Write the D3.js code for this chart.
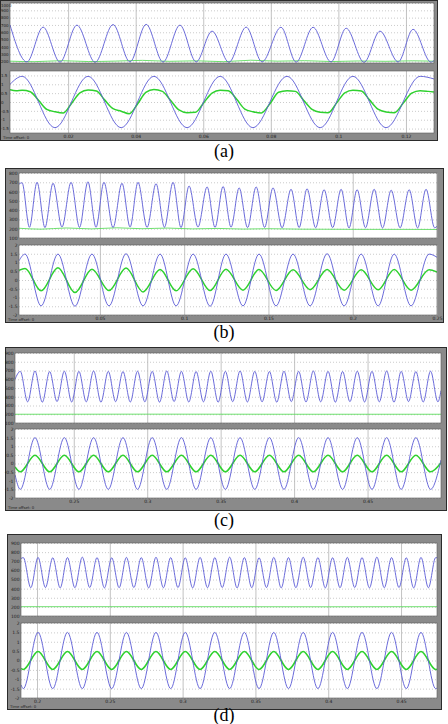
<!DOCTYPE html>
<html>
<head>
<meta charset="utf-8">
<script src="https://cdn.jsdelivr.net/npm/d3@7"></script>
<style>
  body { margin: 0; background: #fff; }
  svg { display: block; }
</style>
</head>
<body>
<svg id="fig" width="448" height="724"></svg>
<script>
// ---- panel (a) ----
const aXDomain = [0.0028, 0.1283];
const aXTicks = [0.02, 0.04, 0.06, 0.08, 0.1, 0.12];
const aTopDomain = [180, 1000];
const aTopTicks = [200, 300, 400, 500, 600, 700, 800, 900, 1000];
const aBotDomain = [-1.75, 1.75];
const aBotTicks = [-1.5, -1, -0.5, 0, 0.5, 1, 1.5];
const aTopT = [0.0028, 0.0078, 0.0126, 0.0176, 0.0226, 0.0280, 0.0333, 0.0383, 0.0431, 0.0481, 0.0531, 0.0579, 0.0626, 0.0676,
  0.0727, 0.0774, 0.0830, 0.0875, 0.0925, 0.0978, 0.1023, 0.1076, 0.1123, 0.1177, 0.1221, 0.1274, 0.1283];
const aTopBlue = [700, 195, 670, 192, 697, 190, 705, 195, 708, 193, 697, 195, 615, 190,
  670, 195, 668, 192, 668, 195, 655, 190, 615, 195, 640, 192, 215];
const aTopGreenT = [0.0028, 0.010, 0.018, 0.026, 0.034, 0.042, 0.050, 0.058, 0.066, 0.074, 0.082, 0.090, 0.098, 0.106, 0.114, 0.122, 0.1283];
const aTopGreen = [205, 198, 212, 200, 206, 216, 203, 210, 198, 218, 205, 212, 200, 208, 203, 210, 205];
const aBotT = [0.0028, 0.0064, 0.0161, 0.0259, 0.0357, 0.0454, 0.0552, 0.0650, 0.0747, 0.0848, 0.0946, 0.1043, 0.1141, 0.1242, 0.1283];
const aBotBlue = [1.0, 1.45, -1.45, 1.45, -1.45, 1.45, -1.45, 1.45, -1.45, 1.45, -1.45, 1.45, -1.45, 1.45, 1.3];
const aBotGreenT = [0.0028, 0.0046,
  0.0064, 0.0088, 0.0113, 0.0137, 0.0161, 0.0186, 0.0210, 0.0235,
  0.0259, 0.0284, 0.0308, 0.0333, 0.0357, 0.0381, 0.0406, 0.0430,
  0.0454, 0.0479, 0.0503, 0.0528, 0.0552, 0.0577, 0.0601, 0.0626,
  0.0650, 0.0674, 0.0699, 0.0723, 0.0747, 0.0772, 0.0798, 0.0823,
  0.0848, 0.0873, 0.0897, 0.0922, 0.0946, 0.0970, 0.0995, 0.1019,
  0.1043, 0.1068, 0.1092, 0.1117, 0.1141, 0.1166, 0.1192, 0.1217,
  0.1242, 0.1266, 0.1283];
const aBotGreen = [0.7, 0.64,
  0.66, 0.58, 0.08, -0.42, -0.55, -0.62, -0.08, 0.52,
  0.68, 0.62, 0.12, -0.38, -0.52, -0.66, -0.1, 0.55,
  0.7, 0.6, 0.1, -0.45, -0.6, -0.58, -0.05, 0.5,
  0.66, 0.63, 0.15, -0.4, -0.55, -0.62, -0.08, 0.55,
  0.64, 0.6, 0.1, -0.42, -0.58, -0.6, -0.05, 0.52,
  0.66, 0.62, 0.12, -0.4, -0.56, -0.6, -0.06, 0.5,
  0.64, 0.6, 0.56];

// ---- panel (b) ----
const bXDomain = [0.002, 0.25];
const bXTicks = [0.05, 0.1, 0.15, 0.2, 0.25];
const bTopDomain = [100, 800];
const bTopTicks = [100, 200, 300, 400, 500, 600, 700, 800];
const bBotDomain = [-2, 2];
const bBotTicks = [-2, -1.5, -1, -0.5, 0, 0.5, 1, 1.5, 2];
const bTopT = [0.002,
  0.0038, 0.0082, 0.0127, 0.0174, 0.0222, 0.0275, 0.0329, 0.0379, 0.0429, 0.0477,
  0.0524, 0.0578, 0.0631, 0.0679, 0.0726, 0.0780, 0.0833, 0.0883, 0.0934, 0.0981,
  0.1029, 0.1082, 0.1136, 0.1183, 0.1231, 0.1278, 0.1326, 0.1376, 0.1427, 0.1477,
  0.1527, 0.1581, 0.1634, 0.1682, 0.1729, 0.1780, 0.1830, 0.1881, 0.1931, 0.1978,
  0.2026, 0.2076, 0.2127, 0.2177, 0.2228, 0.2281, 0.2335, 0.2385, 0.2435, 0.2486,
  0.25];
const bTopBlue = [680,
  695, 215, 700, 212, 690, 218, 700, 214, 705, 216,
  700, 212, 690, 218, 700, 214, 685, 216, 700, 212,
  660, 218, 650, 214, 655, 216, 640, 212, 650, 214,
  640, 210, 625, 212, 630, 210, 620, 212, 625, 208,
  620, 210, 625, 208, 615, 210, 620, 208, 625, 210,
  225];
const bTopGreenT = [0.002, 0.015, 0.03, 0.045, 0.06, 0.075, 0.09, 0.105, 0.12, 0.135, 0.15, 0.17, 0.19, 0.21, 0.23, 0.25];
const bTopGreen = [205, 195, 208, 198, 210, 200, 207, 198, 203, 196, 200, 195, 194, 193, 193, 192];
const bBotT = [0.002, 0.0056, 0.0151, 0.0251, 0.0352, 0.0453, 0.0554, 0.0655, 0.0756, 0.0857, 0.0952, 0.1053, 0.1154, 0.1248,
  0.1349, 0.1444, 0.1545, 0.1646, 0.1747, 0.1848, 0.1949, 0.2050, 0.2151, 0.2246, 0.2346, 0.2453, 0.25];
const bBotBlue = [1.1, 1.48, -1.48, 1.48, -1.5, 1.48, -1.48, 1.5, -1.48, 1.48, -1.48, 1.48, -1.5, 1.48,
  -1.48, 1.48, -1.48, 1.48, -1.48, 1.5, -1.48, 1.48, -1.48, 1.48, -1.48, 1.48, 1.3];
const bBotGreen = [0.55, 0.66, -0.62, 0.7, -0.72, 0.62, -0.6, 0.68, -0.68, 0.6, -0.62, 0.65, -0.6, 0.62,
  -0.58, 0.6, -0.6, 0.58, -0.55, 0.6, -0.58, 0.58, -0.56, 0.6, -0.58, 0.58, 0.45];

// ---- panel (c) ----
const cXDomain = [0.21, 0.5];
const cXTicks = [0.25, 0.3, 0.35, 0.4, 0.45];
const cTopDomain = [100, 900];
const cTopTicks = [100, 200, 300, 400, 500, 600, 700, 800, 900];
const cBotDomain = [-2, 2];
const cBotTicks = [-2, -1.5, -1, -0.5, 0, 0.5, 1, 1.5, 2];
const cTopT = [0.21,
  0.2136, 0.2186, 0.2236, 0.2286, 0.2336, 0.2386, 0.2436, 0.2486, 0.2535, 0.2585,
  0.2635, 0.2685, 0.2735, 0.2785, 0.2835, 0.2885, 0.2934, 0.2984, 0.3034, 0.3084,
  0.3133, 0.3183, 0.3233, 0.3283, 0.3333, 0.3383, 0.3433, 0.3483, 0.3532, 0.3582,
  0.3632, 0.3682, 0.3732, 0.3782, 0.3832, 0.3882, 0.3931, 0.3981, 0.4031, 0.4081,
  0.4131, 0.4181, 0.4231, 0.4281, 0.4330, 0.4380, 0.4430, 0.4480, 0.4530, 0.4580,
  0.4630, 0.4680, 0.4729, 0.4779, 0.4829, 0.4879, 0.4929, 0.4979,
  0.5];
const cTopBlue = [600,
  690, 342, 695, 338, 688, 345, 692, 340, 690, 342,
  695, 338, 690, 344, 688, 340, 692, 342, 690, 338,
  695, 345, 690, 340, 688, 342, 692, 338, 690, 344,
  695, 340, 690, 342, 688, 338, 692, 345, 690, 340,
  695, 342, 690, 338, 688, 344, 692, 340, 690, 342,
  695, 338, 690, 345, 688, 340, 692, 342,
  470];
const cTopGreenT = [0.21, 0.3, 0.4, 0.5];
const cTopGreen = [200, 201, 200, 200];
const cBotT = [0.21,
  0.2136, 0.2236, 0.2336, 0.2436, 0.2535, 0.2635, 0.2735, 0.2835, 0.2934, 0.3034,
  0.3133, 0.3233, 0.3333, 0.3433, 0.3532, 0.3632, 0.3732, 0.3832, 0.3931, 0.4031,
  0.4131, 0.4231, 0.4330, 0.4430, 0.4530, 0.4630, 0.4729, 0.4829, 0.4929,
  0.5];
const cBotBlue = [-0.65,
  -1.5, 1.5, -1.5, 1.5, -1.5, 1.5, -1.5, 1.5, -1.5, 1.5,
  -1.5, 1.5, -1.5, 1.5, -1.5, 1.5, -1.5, 1.5, -1.5, 1.5,
  -1.5, 1.5, -1.5, 1.5, -1.5, 1.5, -1.5, 1.5, -1.5,
  0.2];
const cBotGreen = [-0.2,
  -0.48, 0.48, -0.48, 0.48, -0.48, 0.48, -0.48, 0.48, -0.48, 0.48,
  -0.48, 0.48, -0.48, 0.48, -0.48, 0.48, -0.48, 0.48, -0.48, 0.48,
  -0.48, 0.48, -0.48, 0.48, -0.48, 0.48, -0.48, 0.48, -0.48,
  0.05];

// ---- panel (d) ----
const dXDomain = [0.189, 0.4747];
const dXTicks = [0.2, 0.25, 0.3, 0.35, 0.4, 0.45];
const dTopDomain = [100, 900];
const dTopTicks = [100, 200, 300, 400, 500, 600, 700, 800, 900];
const dBotDomain = [-2, 2];
const dBotTicks = [-2, -1.5, -1, -0.5, 0, 0.5, 1, 1.5, 2];
const dTopT = [0.189,
  0.1906, 0.1957, 0.2007, 0.2058, 0.2108, 0.2159, 0.2209, 0.2260, 0.2311, 0.2362,
  0.2412, 0.2463, 0.2513, 0.2564, 0.2614, 0.2665, 0.2716, 0.2767, 0.2817, 0.2868,
  0.2918, 0.2968, 0.3018, 0.3069, 0.3120, 0.3171, 0.3221, 0.3272, 0.3323, 0.3374,
  0.3424, 0.3475, 0.3525, 0.3576, 0.3626, 0.3677, 0.3727, 0.3778, 0.3828, 0.3879,
  0.3929, 0.3980, 0.4030, 0.4081, 0.4131, 0.4182, 0.4232, 0.4283, 0.4334, 0.4385,
  0.4435, 0.4486, 0.4536, 0.4587, 0.4637, 0.4688, 0.4738,
  0.4747];
const dTopBlue = [730,
  740, 410, 742, 412, 738, 408, 740, 410, 745, 412,
  740, 408, 738, 410, 742, 412, 740, 408, 744, 410,
  740, 412, 738, 408, 742, 410, 740, 412, 745, 408,
  740, 410, 738, 412, 742, 408, 740, 410, 744, 412,
  740, 408, 738, 410, 742, 412, 740, 408, 745, 410,
  740, 412, 738, 408, 742, 410, 740,
  738];
const dTopGreenT = [0.189, 0.3, 0.4, 0.4747];
const dTopGreen = [202, 202, 201, 202];
const dBotT = [0.189,
  0.1906, 0.2007, 0.2108, 0.2209, 0.2311, 0.2412, 0.2513, 0.2614, 0.2716, 0.2817,
  0.2918, 0.3018, 0.3120, 0.3221, 0.3323, 0.3424, 0.3525, 0.3626, 0.3727, 0.3828,
  0.3929, 0.4030, 0.4131, 0.4232, 0.4334, 0.4435, 0.4536, 0.4637, 0.4738,
  0.4747];
const dBotBlue = [-1.3,
  -1.5, 1.5, -1.5, 1.5, -1.5, 1.5, -1.5, 1.5, -1.5, 1.5,
  -1.5, 1.5, -1.5, 1.5, -1.5, 1.5, -1.5, 1.5, -1.5, 1.5,
  -1.5, 1.5, -1.5, 1.5, -1.5, 1.5, -1.5, 1.5, -1.5,
  -1.47];
const dBotGreen = [-0.42,
  -0.48, 0.48, -0.48, 0.48, -0.48, 0.48, -0.48, 0.48, -0.48, 0.48,
  -0.48, 0.48, -0.48, 0.48, -0.48, 0.48, -0.48, 0.48, -0.48, 0.48,
  -0.48, 0.48, -0.48, 0.48, -0.48, 0.48, -0.48, 0.48, -0.48,
  -0.47];

// layout of the four scope screenshots (pixels)
const panels = [
  {label: '(a)', frame: [0, 0, 438, 141], px: [10, 434], top: [3, 63], bot: [71, 133], capY: 157, leftLabels: true,
   xDom: aXDomain, xTicks: aXTicks,
   topDom: aTopDomain, topTicks: aTopTicks, botDom: aBotDomain, botTicks: aBotTicks,
   topBlue: [aTopT, aTopBlue], topGreen: [aTopGreenT, aTopGreen],
   botBlue: [aBotT, aBotBlue], botGreen: [aBotGreenT, aBotGreen], greenW: 1.5},
  {label: '(b)', frame: [5, 168, 444, 323], px: [19, 437], top: [173, 238], bot: [245, 315], capY: 338,
   xDom: bXDomain, xTicks: bXTicks,
   topDom: bTopDomain, topTicks: bTopTicks, botDom: bBotDomain, botTicks: bBotTicks,
   topBlue: [bTopT, bTopBlue], topGreen: [bTopGreenT, bTopGreen],
   botBlue: [bBotT, bBotBlue], botGreen: [bBotT, bBotGreen], greenW: 1.5},
  {label: '(c)', frame: [5, 347, 447, 511], px: [15, 441], top: [353, 423], bot: [429, 498], capY: 526,
   xDom: cXDomain, xTicks: cXTicks,
   topDom: cTopDomain, topTicks: cTopTicks, botDom: cBotDomain, botTicks: cBotTicks,
   topBlue: [cTopT, cTopBlue], topGreen: [cTopGreenT, cTopGreen],
   botBlue: [cBotT, cBotBlue], botGreen: [cBotT, cBotGreen], greenW: 1.6},
  {label: '(d)', frame: [7, 534, 442, 710], px: [21, 437], top: [543, 616], bot: [623, 698], capY: 721,
   xDom: dXDomain, xTicks: dXTicks,
   topDom: dTopDomain, topTicks: dTopTicks, botDom: dBotDomain, botTicks: dBotTicks,
   topBlue: [dTopT, dTopBlue], topGreen: [dTopGreenT, dTopGreen],
   botBlue: [dBotT, dBotBlue], botGreen: [dBotT, dBotGreen], greenW: 1.6}
];

const svg = d3.select('#fig');
const BLUE = '#5a5ad6';
const GREEN = '#2fd12f';
const fmt = d => String(d);

panels.forEach((p, i) => {
  const g = svg.append('g');
  const [fx0, fy0, fx1, fy1] = p.frame;

  // gray scope frame
  g.append('rect')
    .attr('x', fx0 + 0.5).attr('y', fy0 + 0.5)
    .attr('width', fx1 - fx0 - 1).attr('height', fy1 - fy0 - 1)
    .attr('fill', '#8a8a8a').attr('stroke', '#2b2b2b').attr('stroke-width', 1);

  const x = d3.scaleLinear().domain(p.xDom).range(p.px);
  const w = p.px[1] - p.px[0];

  const subs = [
    {key: 'top', rng: p.top, dom: p.topDom, ticks: p.topTicks, blue: p.topBlue, green: p.topGreen, gw: 0.9, gc: '#5fdc5f'},
    {key: 'bot', rng: p.bot, dom: p.botDom, ticks: p.botTicks, blue: p.botBlue, green: p.botGreen, gw: p.greenW, gc: GREEN}
  ];

  subs.forEach(s => {
    const [y0, y1] = s.rng;
    const h = y1 - y0;
    const y = d3.scaleLinear().domain(s.dom).range([y1, y0]);
    const clipId = `clip-${i}-${s.key}`;

    g.append('clipPath').attr('id', clipId)
      .append('rect').attr('x', p.px[0]).attr('y', y0).attr('width', w).attr('height', h);

    g.append('rect')
      .attr('x', p.px[0]).attr('y', y0).attr('width', w).attr('height', h)
      .attr('fill', '#fff');

    // horizontal dotted grid
    const hg = g.append('g')
      .attr('transform', `translate(${p.px[0]},0)`)
      .call(d3.axisLeft(y).tickValues(s.ticks).tickSize(-w).tickFormat(''));
    hg.select('.domain').remove();
    hg.selectAll('line').attr('stroke', '#a8a8a8').attr('stroke-width', 0.6).attr('stroke-dasharray', '1,2');

    // vertical grid at x ticks
    const vg = g.append('g')
      .attr('transform', `translate(0,${y1})`)
      .call(d3.axisBottom(x).tickValues(p.xTicks).tickSize(-h).tickFormat(''));
    vg.select('.domain').remove();
    vg.selectAll('line').attr('stroke', '#b4b4b4').attr('stroke-width', 0.8);

    // y tick labels in the gray margin
    const ya = g.append('g')
      .attr('transform', `translate(${p.px[0]},0)`)
      .call(d3.axisLeft(y).tickValues(s.ticks).tickSize(0).tickPadding(1.5).tickFormat(fmt));
    ya.select('.domain').remove();
    ya.selectAll('text').attr('font-size', 4.5).attr('font-family', 'DejaVu Sans, sans-serif').attr('fill', '#1e1e1e');
    if (p.leftLabels) {
      // narrow margin: start the labels at the frame edge
      ya.selectAll('text').attr('text-anchor', 'start').attr('x', fx0 + 1 - p.px[0]).attr('font-size', 4);
    }
    // keep labels that sit on the frame edge inside the picture
    ya.selectAll('.tick').filter(d => y(d) < fy0 + 4).select('text').attr('dy', '0.9em');

    const line = d3.line()
      .x(d => x(d[0]))
      .y(d => y(d[1]))
      .curve(d3.curveMonotoneX);

    const traces = g.append('g').attr('clip-path', `url(#${clipId})`);
    traces.append('path')
      .attr('d', line(d3.zip(s.green[0], s.green[1])))
      .attr('fill', 'none').attr('stroke', s.gc).attr('stroke-width', s.gw);
    traces.append('path')
      .attr('d', line(d3.zip(s.blue[0], s.blue[1])))
      .attr('fill', 'none').attr('stroke', BLUE).attr('stroke-width', 0.9);

    g.append('rect')
      .attr('x', p.px[0]).attr('y', y0).attr('width', w).attr('height', h)
      .attr('fill', 'none').attr('stroke', '#5a5a5a').attr('stroke-width', 0.6);
  });

  // x tick labels under the lower axes
  const xa = g.append('g')
    .attr('transform', `translate(0,${p.bot[1]})`)
    .call(d3.axisBottom(x).tickValues(p.xTicks).tickSize(0).tickPadding(2).tickFormat(fmt));
  xa.select('.domain').remove();
  xa.selectAll('text').attr('font-size', 4.5).attr('font-family', 'DejaVu Sans, sans-serif').attr('fill', '#1e1e1e');

  g.append('text')
    .attr('x', fx0 + 3).attr('y', fy1 - 1.8)
    .attr('font-size', 3.8).attr('font-family', 'DejaVu Sans, sans-serif').attr('fill', '#1e1e1e')
    .text('Time offset: 0');

  svg.append('text')
    .attr('x', 224).attr('y', p.capY)
    .attr('text-anchor', 'middle')
    .attr('font-family', '"Liberation Serif", "Times New Roman", serif')
    .attr('font-size', 18).attr('fill', '#000')
    .text(p.label);
});
</script>
</body>
</html>
